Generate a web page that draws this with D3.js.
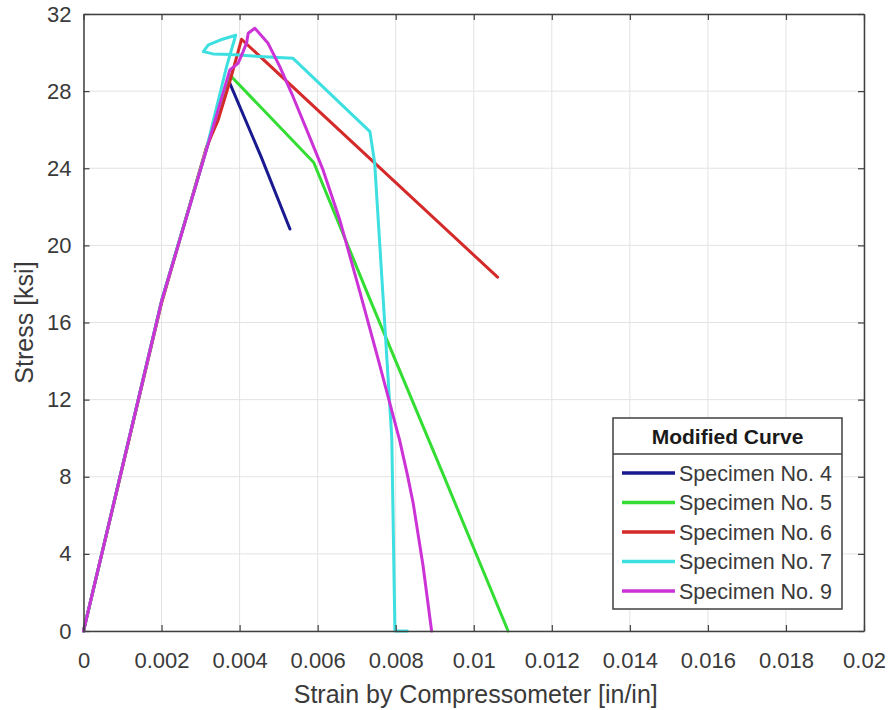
<!DOCTYPE html>
<html>
<head>
<meta charset="utf-8">
<script src="https://cdn.jsdelivr.net/npm/d3@7"></script>
<style>
  body { margin: 0; background: #fff; }
  svg { font-family: "Liberation Sans", Arial, sans-serif; }
</style>
</head>
<body>
<svg id="chart" width="891" height="710"></svg>
<script>
// series names and colours
var names = ["Specimen No. 4", "Specimen No. 5", "Specimen No. 6", "Specimen No. 7", "Specimen No. 9"];
var colors = ["#1a1a90", "#33dd33", "#d42a2a", "#3ddfe0", "#cc33d6"];

// strain / stress points
var spec4 = [[0,0],[0.002,17.1],[0.00315,25],[0.00371,28.6],[0.00455,24.6],[0.00529,20.85]];
var spec5 = [[0,0],[0.002,17.1],[0.00315,25],[0.00375,28.84],[0.0059,24.3],[0.00734,17.2],[0.0092,8.2],[0.01088,0]];
var spec6 = [[0,0],[0.002,17.0],[0.00315,25.1],[0.00345,26.5],[0.00375,28.5],[0.00405,30.69],[0.01061,18.35]];
var spec7 = [[0,0],[0.002,17.1],[0.00315,25],[0.00367,29.3],[0.0039,30.9],[0.0035,30.65],[0.0032,30.4],[0.00307,30.05],[0.00332,29.93],[0.0038,29.9],[0.0045,29.8],[0.00537,29.7],[0.00734,25.9],[0.00746,24.3],[0.00768,17.2],[0.0079,10],[0.00798,0],[0.0083,0]];
var spec9 = [[0,0],[0.002,17.1],[0.00315,24.95],[0.00375,29.1],[0.00396,29.44],[0.00409,30.05],[0.00418,30.5],[0.00422,31.0],[0.00439,31.26],[0.00473,30.48],[0.00503,29.27],[0.00537,27.71],[0.00572,25.99],[0.00614,23.9],[0.00657,21.3],[0.00708,17.6],[0.00755,14.1],[0.00785,11.8],[0.0081,9.9],[0.0083,8.1],[0.00845,6.6],[0.0087,3.4],[0.00892,0]];
var allSeries = [spec4, spec5, spec6, spec7, spec9];

var xTicks = [0, 0.002, 0.004, 0.006, 0.008, 0.01, 0.012, 0.014, 0.016, 0.018, 0.02];
var yTicks = [0, 4, 8, 12, 16, 20, 24, 28, 32];

var plotL = 83.5, plotR = 864, plotT = 14, plotB = 631;

var svg = d3.select("#chart");

var xScale = d3.scaleLinear().domain([0, 0.02]).range([plotL, plotR]);
var yScale = d3.scaleLinear().domain([0, 32]).range([plotB, plotT]);

// grid
var grid = svg.append("g").attr("class", "grid");
grid.selectAll(".gx").data(xTicks).enter().append("line")
  .attr("x1", d => xScale(d)).attr("x2", d => xScale(d))
  .attr("y1", plotT).attr("y2", plotB)
  .attr("stroke", "#e3e3e3").attr("stroke-width", 1);
grid.selectAll(".gy").data(yTicks).enter().append("line")
  .attr("x1", plotL).attr("x2", plotR)
  .attr("y1", d => yScale(d)).attr("y2", d => yScale(d))
  .attr("stroke", "#e3e3e3").attr("stroke-width", 1);

// curves
var line = d3.line()
  .x(d => xScale(d[0]))
  .y(d => yScale(d[1]));

svg.append("g").attr("class", "curves")
  .selectAll("path").data(allSeries).enter().append("path")
  .attr("d", line)
  .attr("fill", "none")
  .attr("stroke", (d, i) => colors[i])
  .attr("stroke-width", 3)
  .attr("stroke-linejoin", "round")
  .attr("stroke-linecap", "round");

// axes: ticks inside, on all four sides
var axisColor = "#404040";
var fmt = d => d3.format("~g")(d);

var xAxis = svg.append("g")
  .attr("transform", "translate(0," + plotB + ")")
  .call(d3.axisBottom(xScale).tickValues(xTicks).tickFormat(fmt).tickSizeInner(-6).tickSizeOuter(0).tickPadding(21));
var yAxis = svg.append("g")
  .attr("transform", "translate(" + plotL + ",0)")
  .call(d3.axisLeft(yScale).tickValues(yTicks).tickFormat(fmt).tickSizeInner(-6).tickSizeOuter(0).tickPadding(12));
var xTop = svg.append("g")
  .attr("transform", "translate(0," + plotT + ")")
  .call(d3.axisTop(xScale).tickValues(xTicks).tickFormat("").tickSizeInner(-6).tickSizeOuter(0));
var yRight = svg.append("g")
  .attr("transform", "translate(" + plotR + ",0)")
  .call(d3.axisRight(yScale).tickValues(yTicks).tickFormat("").tickSizeInner(-6).tickSizeOuter(0));

[xAxis, yAxis, xTop, yRight].forEach(function(a) {
  a.select(".domain").attr("stroke", axisColor).attr("stroke-width", 1.5);
  a.selectAll(".tick line").attr("stroke", axisColor).attr("stroke-width", 1.2);
  a.selectAll(".tick text")
    .attr("fill", "#3a3a3a")
    .style("font-size", "22px")
    .style("font-family", "'Liberation Sans', Arial, sans-serif");
});

// axis labels
svg.append("text")
  .attr("x", (plotL + plotR) / 2 + 2)
  .attr("y", 703)
  .attr("text-anchor", "middle")
  .attr("fill", "#3a3a3a")
  .style("font-size", "25px")
  .text("Strain by Compressometer [in/in]");

svg.append("text")
  .attr("transform", "translate(33," + ((plotT + plotB) / 2) + ") rotate(-90)")
  .attr("text-anchor", "middle")
  .attr("fill", "#3a3a3a")
  .style("font-size", "25px")
  .text("Stress [ksi]");

// legend
var lg = svg.append("g").attr("class", "legend").attr("transform", "translate(613,418)");
lg.append("rect")
  .attr("width", 229).attr("height", 191)
  .attr("fill", "#fff").attr("stroke", "#404040").attr("stroke-width", 1.5);
lg.append("line")
  .attr("x1", 0).attr("x2", 229).attr("y1", 36).attr("y2", 36)
  .attr("stroke", "#404040").attr("stroke-width", 1.5);
lg.append("text")
  .attr("x", 114.5).attr("y", 26)
  .attr("text-anchor", "middle")
  .attr("fill", "#1a1a1a")
  .style("font-size", "21px").style("font-weight", "bold")
  .text("Modified Curve");

var items = lg.selectAll(".item").data(names).enter().append("g")
  .attr("transform", (d, i) => "translate(0," + (55 + i * 29.5) + ")");
items.append("line")
  .attr("x1", 9).attr("x2", 62)
  .attr("stroke", (d, i) => colors[i]).attr("stroke-width", 3.5);
items.append("text")
  .attr("x", 66).attr("y", 7.5)
  .attr("fill", "#3a3a3a")
  .style("font-size", "21.5px")
  .text(d => d);
</script>
</body>
</html>
